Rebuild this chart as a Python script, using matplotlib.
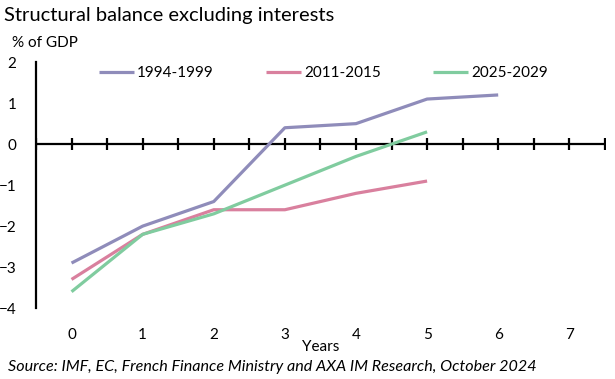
import matplotlib.pyplot as plt
import numpy as np

plt.rcParams['font.family'] = ['Lato', 'DejaVu Sans']

years = [0, 1, 2, 3, 4, 5, 6, 7]
s_1994 = [-2.9, -2.0, -1.4, 0.4, 0.5, 1.1, 1.2]
s_2011 = [-3.3, -2.2, -1.6, -1.6, -1.2, -0.9]
s_2025 = [-3.6, -2.2, -1.7, -1.0, -0.3, 0.3]
labels = ['1994-1999', '2011-2015', '2025-2029']
colors = ['#8f8cba', '#d9809e', '#80cc9f']
yticks = [2, 1, 0, -1, -2, -3, -4]

fig = plt.figure(figsize=(6.15, 3.79), dpi=100)
ax = fig.add_axes([0.0585, 0.187, 0.925, 0.649])

for vals, lab, c in zip([s_1994, s_2011, s_2025], labels, colors):
    ax.plot(years[:len(vals)], vals, color=c, lw=2.3, label=lab, solid_capstyle='butt')

ax.set_xlim(-0.5, 7.5)
ax.set_ylim(-4, 2)

# x axis line through zero with half-step tick marks
ax.axhline(0, color='black', lw=1.6, zorder=1)
half = np.arange(-0.5, 7.51, 0.5)
ax.plot(half, np.zeros_like(half), ls='none', marker='|', ms=8, mew=1.6, color='black', zorder=1)

for s in ['top', 'right', 'bottom']:
    ax.spines[s].set_visible(False)
ax.spines['left'].set_linewidth(1.6)

ax.set_xticks(years)
ax.set_xticklabels([str(y) for y in years])
ax.tick_params(axis='x', length=0, pad=14, labelsize=11)
ax.set_yticks(yticks)
ax.tick_params(axis='y', length=0, pad=14, labelsize=11)
ax.set_yticks([-4, 2], minor=True)
ax.tick_params(axis='y', which='minor', direction='in', length=4, width=1.6)

ax.set_xlabel('Years', fontsize=11, labelpad=-1)

ax.legend(loc='upper center', bbox_to_anchor=(0.505, 1.04), ncol=3, frameon=False,
          fontsize=11, handlelength=2.3, handletextpad=0.2, columnspacing=3.4)

fig.text(0.007, 0.945, 'Structural balance excluding interests', fontsize=14.5)
fig.text(0.02, 0.875, '% of GDP', fontsize=11)
fig.text(0.013, 0.02, 'Source: IMF, EC, French Finance Ministry and AXA IM Research, October 2024',
         fontsize=11.6, style='italic')

fig.savefig('out.png', dpi=100)
